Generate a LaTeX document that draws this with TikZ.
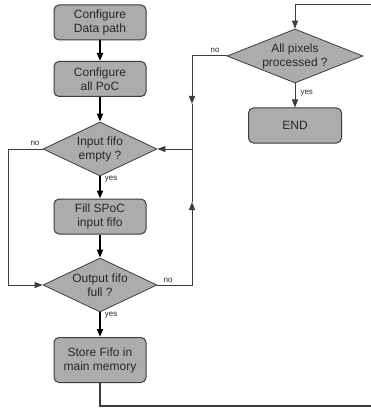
\documentclass[tikz,border=0pt]{standalone}
\usepackage{fontspec}
\setmainfont{Liberation Sans}
\usetikzlibrary{shapes.geometric,arrows.meta}
\definecolor{boxfill}{RGB}{172,172,172}
\definecolor{edgecol}{RGB}{60,60,60}
\definecolor{txtcol}{RGB}{40,40,40}
\tikzset{
  box/.style={draw=edgecol, line width=1pt, fill=boxfill, rounded corners=5pt,
    minimum width=92pt, minimum height=35pt, inner sep=0pt, align=center,
    text=txtcol, font=\fontsize{12}{14}\selectfont},
  dia/.style={draw=edgecol, line width=0.8pt, fill=boxfill, diamond, aspect=2.1,
    minimum width=114pt, minimum height=54pt, inner sep=0pt},
  diatxt/.style={align=center, text=txtcol, font=\fontsize{12}{14}\selectfont, inner sep=0pt},
  tip/.style={-{Triangle[length=8pt,width=6pt]}},
  thickarr/.style={line width=1.8pt, black, tip},
  conn/.style={line width=1pt, edgecol},
  lab/.style={font=\fontsize{8}{9}\selectfont, text=txtcol, inner sep=1pt}
}
\begin{document}
\begin{tikzpicture}[x=1pt,y=-1pt]
\useasboundingbox (0,0) rectangle (371,409);
% nodes
\node[box] (b1) at (100,22.5) {Configure\\Data path};
\node[box] (b2) at (100,79) {Configure\\all PoC};
\node[dia] (d1) at (100,149) {};
\node[diatxt] (t1) at (100,149) {Input fifo\\empty ?};
\node[box] (b3) at (100,216.5) {Fill SPoC\\input fifo};
\node[dia] (d2) at (100,285) {};
\node[diatxt] (t2) at (100,285) {Output fifo\\full ?};
\node[box, minimum height=45pt] (b4) at (100,360) {Store Fifo in\\main memory};
\node[dia, minimum width=136pt] (d3) at (295,56) {};
\node[diatxt] (t3) at (295,56) {All pixels\\processed ?};
\node[box, minimum width=93pt] (b5) at (295,125.5) {END};
% coordinates
\coordinate (bl) at (100,406);
\coordinate (br) at (371,406);
\coordinate (tr) at (371,5);
\coordinate (tl) at (295,5);
\coordinate (rv1) at (192,56);
\coordinate (rvm1) at (192,104);
\coordinate (rj) at (192,149);
\coordinate (rv2) at (192,285);
\coordinate (rvm2) at (192,202);
\coordinate (lv1) at (8,149);
\coordinate (lv2) at (8,285);
% main flow
\draw[thickarr] (b1) -- (b2);
\draw[thickarr] (b2) -- (d1);
\draw[thickarr] (d1) -- (b3) node[lab, pos=0.12, right=3pt] {yes};
\draw[thickarr] (b3) -- (d2);
\draw[thickarr] (d2) -- (b4) node[lab, pos=0.12, right=3pt] {yes};
% loop lines
\draw[conn, line width=1.3pt] (b4.south) -- (bl) -- (br);
\draw[conn, tip] (tr) -- (tl) -- (d3.north);
\draw[conn, tip] (d3) -- (b5) node[lab, pos=0.4, right=4pt] {yes};
\draw[conn, tip] (d3.west) -- (rv1) -- (rvm1);
\draw[conn, tip] (rvm1) -- (rj) -- (d1.east);
\draw[conn, tip] (d2.east) -- (rv2) -- (rvm2);
\draw[conn] (rvm2) -- (rj);
\draw[conn, tip] (d1.west) -- (lv1) -- (lv2) -- (d2.west);
% labels
\node[lab] (n1) at (35,143) {no};
\node[lab] (n2) at (168,280) {no};
\node[lab] (n3) at (215,50) {no};
\end{tikzpicture}
\end{document}
